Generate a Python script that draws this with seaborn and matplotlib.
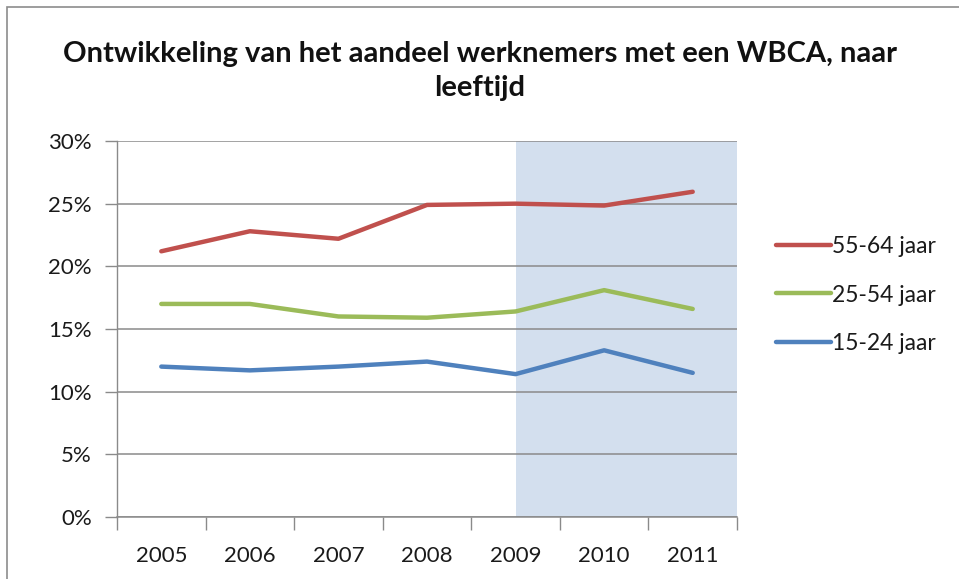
import matplotlib
matplotlib.use("Agg")
import matplotlib.pyplot as plt
from matplotlib.patches import Rectangle
from matplotlib.ticker import FixedLocator, PercentFormatter
from matplotlib.lines import Line2D
import seaborn as sns
import pandas as pd

years = ["2005", "2006", "2007", "2008", "2009", "2010", "2011"]
age_55_64 = [21.2, 22.8, 22.2, 24.9, 25.0, 24.85, 25.95]
age_25_54 = [17.0, 17.0, 16.0, 15.9, 16.4, 18.1, 16.6]
age_15_24 = [12.0, 11.7, 12.0, 12.4, 11.4, 13.3, 11.5]
series_names = ["55-64 jaar", "25-54 jaar", "15-24 jaar"]
series_colors = ["#C0504D", "#9BBB59", "#4F81BD"]
title = "Ontwikkeling van het aandeel werknemers met een WBCA, naar\nleeftijd"

df = pd.DataFrame({
    "jaar": years * 3,
    "waarde": age_55_64 + age_25_54 + age_15_24,
    "groep": [series_names[0]] * 7 + [series_names[1]] * 7 + [series_names[2]] * 7,
})

sns.set_theme(style="white")
plt.rcParams["font.family"] = ["Lato", "DejaVu Sans"]

fig = plt.figure(figsize=(9.59, 5.79), dpi=100)
ax = fig.add_axes([117/959, 1 - 517/579, (737 - 117)/959, (517 - 141)/579])

# outer chart border
fig.patches.append(Rectangle((7/959, -0.05), 1.2, 1 - 7/579 + 0.05, transform=fig.transFigure,
                             fill=False, edgecolor="#8c8c8c", linewidth=1.2))

ax.axvspan(4, 6.5, color="#D3DFEE", zorder=0.2, linewidth=0)

sns.lineplot(data=df, x="jaar", y="waarde", hue="groep", palette=series_colors,
             hue_order=series_names, linewidth=3.2, ax=ax, legend=False, zorder=3)

ax.set_xlim(-0.5, 6.5)
ax.set_ylim(0, 30)
ax.set_yticks([0, 5, 10, 15, 20, 25, 30])
ax.yaxis.set_major_formatter(PercentFormatter(decimals=0))
ax.grid(axis="y", color="#8a8a8a", linewidth=1.1, zorder=1)
ax.set_axisbelow(True)

ax.set_xticks(range(len(years)))
ax.set_xticklabels(years)
ax.xaxis.set_minor_locator(FixedLocator([i - 0.5 for i in range(len(years) + 1)]))
ax.tick_params(axis="x", which="major", length=0, pad=21, labelsize=16, labelcolor="#1a1a1a")
ax.tick_params(axis="x", which="minor", length=9, width=1, color="#8a8a8a", direction="out", bottom=True)
ax.tick_params(axis="y", which="major", length=9, width=1, color="#8a8a8a", direction="out",
               left=True, pad=9, labelsize=16, labelcolor="#1a1a1a")

for s in ["top", "right"]:
    ax.spines[s].set_visible(False)
ax.spines["left"].set_color("#8a8a8a")
ax.spines["bottom"].set_color("#8a8a8a")
ax.spines["left"].set_linewidth(1)
ax.spines["bottom"].set_linewidth(1.1)
ax.set_xlabel("")
ax.set_ylabel("")

handles = [Line2D([0], [0], color=c, linewidth=3.2) for c in series_colors]
fig.legend(handles, series_names, loc="center left", bbox_to_anchor=(755/959, 1 - 295/579),
           frameon=False, fontsize=16.5, handlelength=2.4, handletextpad=0.05,
           labelspacing=1.2, labelcolor="#1a1a1a")

fig.text(480/959, 1 - 71/579, title, ha="center", va="center", fontsize=21,
         fontweight="bold", color="#111111", linespacing=1.35)

fig.savefig("out.png", dpi=100)
